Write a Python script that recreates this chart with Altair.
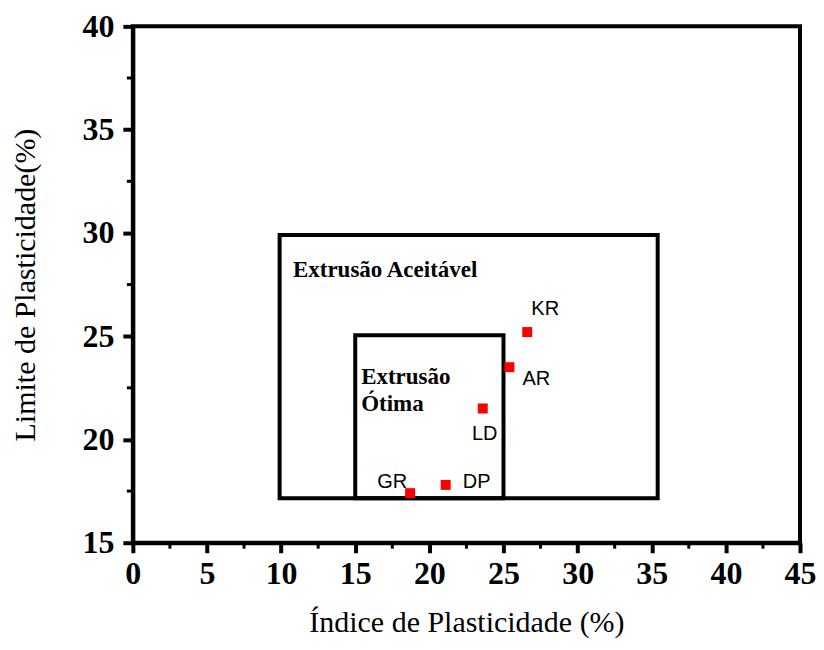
import altair as alt
import pandas as pd

# Samples
names = ["KR", "AR", "LD", "DP", "GR"]
ip = [26.6, 25.4, 23.6, 21.1, 18.7]
lp = [25.2, 23.5, 21.5, 17.8, 17.4]
label_dx = [18, 27, 2, 31, -18]
label_dy = [-23, 12, 26, -3, -11]

# Regions
rect_x = [9.9, 15.0]
rect_x2 = [35.4, 25.0]
rect_y = [17.15, 17.15]
rect_y2 = [29.9, 25.05]

# Region annotations
ann_text = ["Extrusão Aceitável", "Extrusão", "Ótima"]
ann_x = [10.8, 15.4, 15.4]
ann_y = [28.2, 23.0, 21.7]

major_x = [0, 5, 10, 15, 20, 25, 30, 35, 40, 45]
minor_x = [2.5, 7.5, 12.5, 17.5, 22.5, 27.5, 32.5, 37.5, 42.5]
major_y = [15, 20, 25, 30, 35, 40]
minor_y = [17.5, 22.5, 27.5, 32.5, 37.5]

W, H = 668, 517

pts = pd.DataFrame({"name": names, "ip": ip, "lp": lp})
rects = pd.DataFrame({"x": rect_x, "x2": rect_x2, "y": rect_y, "y2": rect_y2})
ann = pd.DataFrame({"t": ann_text, "x": ann_x, "y": ann_y})

xscale = alt.Scale(domain=[0, 45], nice=False)
yscale = alt.Scale(domain=[15, 40], nice=False)

xaxis = alt.Axis(values=major_x, title="Índice de Plasticidade (%)", grid=False,
                 tickSize=10, tickWidth=4, tickColor="black",
                 domainColor="black", domainWidth=4, labelFlush=False,
                 labelFont="Liberation Serif", labelFontSize=32, labelFontWeight="bold",
                 labelColor="black", labelPadding=6,
                 titleFont="Liberation Serif", titleFontSize=30, titleFontWeight="normal",
                 titleColor="black", titlePadding=18)
yaxis = alt.Axis(values=major_y, title="Limite de Plasticidade(%)", grid=False,
                 tickSize=10, tickWidth=4, tickColor="black",
                 domainColor="black", domainWidth=4, labelFlush=False,
                 labelFont="Liberation Serif", labelFontSize=32, labelFontWeight="bold",
                 labelColor="black", labelPadding=9,
                 titleFont="Liberation Serif", titleFontSize=30, titleFontWeight="normal",
                 titleColor="black", titlePadding=41)

def X(f):
    return alt.X(f, scale=xscale, axis=xaxis)

def Y(f):
    return alt.Y(f, scale=yscale, axis=yaxis)

rect_layer = alt.Chart(rects).mark_rect(stroke="black", strokeWidth=4, fillOpacity=0).encode(
    x=X("x:Q"), x2="x2:Q", y=Y("y:Q"), y2="y2:Q",
)

minor_x_layer = alt.Chart(pd.DataFrame({"v": minor_x})).mark_rule(color="black", strokeWidth=3).encode(
    x=X("v:Q"), y=alt.value(H), y2=alt.value(H + 6),
)
minor_y_layer = alt.Chart(pd.DataFrame({"v": minor_y})).mark_rule(color="black", strokeWidth=3).encode(
    y=Y("v:Q"), x=alt.value(0), x2=alt.value(-6),
)

point_layer = alt.Chart(pts).mark_square(size=100, color="#ff0000", opacity=1).encode(
    x=X("ip:Q"), y=Y("lp:Q")
)

label_layers = []
for n, x, y, dx, dy in zip(names, ip, lp, label_dx, label_dy):
    label_layers.append(
        alt.Chart(pd.DataFrame({"name": [n], "ip": [x], "lp": [y]})).mark_text(
            font="Liberation Sans", fontSize=20, color="black", dx=dx, dy=dy,
            align="center", baseline="middle").encode(
            x=X("ip:Q"), y=Y("lp:Q"), text="name:N")
    )

ann_layer = alt.Chart(ann).mark_text(font="Liberation Serif", fontSize=23, fontWeight="bold",
                                     color="black", align="left", baseline="middle").encode(
    x=X("x:Q"), y=Y("y:Q"), text="t:N")

chart = alt.layer(rect_layer, minor_x_layer, minor_y_layer, point_layer, ann_layer, *label_layers).properties(
    width=W, height=H, background="white",
    padding={"left": 3, "top": 2, "right": 0, "bottom": 0}
).configure_view(stroke="black", strokeWidth=4)

chart.save("out.html", embed_options={"renderer": "svg", "actions": False})
